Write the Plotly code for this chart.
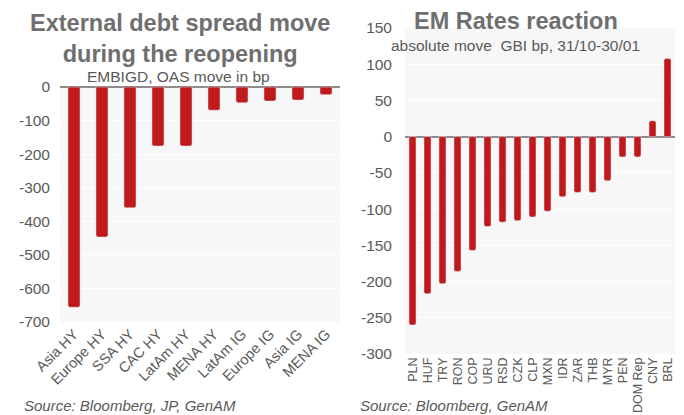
import plotly.graph_objects as go

left_cats = ["Asia HY", "Europe HY", "SSA HY", "CAC HY", "LatAm HY", "MENA HY",
             "LatAm IG", "Europe IG", "Asia IG", "MENA IG"]
left_vals = [-656, -447, -360, -176, -176, -69, -47, -42, -39, -23]
left_ticks = [0, -100, -200, -300, -400, -500, -600, -700]

right_cats = ["PLN", "HUF", "TRY", "RON", "COP", "URU", "RSD", "CZK", "CLP", "MXN",
              "IDR", "ZAR", "THB", "MYR", "PEN", "DOM Rep", "CNY", "BRL"]
right_vals = [-260, -217, -203, -186, -157, -124, -118, -116, -111, -103,
              -83, -77, -77, -61, -28, -28, 22, 108]
right_ticks = [150, 100, 50, 0, -50, -100, -150, -200, -250, -300]

RED = "#c0191c"
TXT = "#595959"
TITLE = "#6f6f6f"
FONT = "Liberation Sans, Arial, sans-serif"

OFF = 8  # default page body margin
W, H = 684 - OFF, 415 - OFF

fig = go.Figure()
fig.add_trace(go.Bar(x=left_cats, y=left_vals, marker=dict(color=RED, cornerradius=2),
                     width=0.43, xaxis="x", yaxis="y", showlegend=False))
fig.add_trace(go.Bar(x=right_cats, y=right_vals, marker=dict(color=RED, cornerradius=2),
                     width=0.47, xaxis="x2", yaxis="y2", showlegend=False))

def px_x(p):
    return (p - OFF) / W

def px_y(p):
    return 1 - (p - OFF) / H

fig.update_layout(
    width=W, height=H,
    margin=dict(l=0, r=0, t=0, b=0),
    paper_bgcolor="white",
    plot_bgcolor="#f7f7f7",
    font=dict(family=FONT, color=TXT, size=13),
    xaxis=dict(domain=[px_x(60), px_x(340)], anchor="y", tickangle=-45,
               showgrid=False, ticks="", tickfont=dict(size=14.5, color=TXT),
               tickmode="array", tickvals=left_cats,
               automargin=False, fixedrange=True),
    yaxis=dict(domain=[px_y(322), px_y(87)], anchor="x", range=[-700, 0],
               tickvals=left_ticks, ticktext=[str(v) for v in left_ticks],
               showgrid=True, gridcolor="white", gridwidth=1,
               zeroline=True, zerolinecolor="#8c8c8c", zerolinewidth=1.5,
               tickfont=dict(size=15.5, color=TXT), ticklabelstandoff=9,
               automargin=False),
    xaxis2=dict(domain=[px_x(405), px_x(675)], anchor="y2", tickangle=-90,
                showgrid=False, ticks="", tickfont=dict(size=12.5, color=TXT),
                tickmode="array", tickvals=right_cats,
                automargin=False),
    yaxis2=dict(domain=[px_y(354), px_y(28)], anchor="x2", range=[-300, 150],
                tickvals=right_ticks, ticktext=[str(v) for v in right_ticks],
                showgrid=True, gridcolor="white", gridwidth=1,
                zeroline=True, zerolinecolor="#8c8c8c", zerolinewidth=1.5,
                tickfont=dict(size=15.5, color=TXT), ticklabelstandoff=12,
                automargin=False),
    annotations=[
        dict(text="<b>External debt spread move<br>during the reopening</b>",
             x=px_x(180), y=px_y(38), xref="paper", yref="paper",
             showarrow=False, font=dict(size=23.5, color=TITLE, family=FONT),
             xanchor="center", yanchor="middle", align="center"),
        dict(text="EMBIGD, OAS move in bp", x=px_x(178), y=px_y(76),
             xref="paper", yref="paper", showarrow=False,
             font=dict(size=15.5, color=TXT, family=FONT), xanchor="center", yanchor="middle"),
        dict(text="<b>EM Rates reaction</b>", x=px_x(516), y=px_y(21),
             xref="paper", yref="paper", showarrow=False,
             font=dict(size=23.5, color=TITLE, family=FONT), xanchor="center", yanchor="middle"),
        dict(text="absolute move  GBI bp, 31/10-30/01", x=px_x(516), y=px_y(45),
             xref="paper", yref="paper", showarrow=False,
             font=dict(size=15.5, color=TXT, family=FONT), xanchor="center", yanchor="middle"),
        dict(text="<i>Source: Bloomberg, JP, GenAM</i>", x=px_x(22), y=px_y(405),
             xref="paper", yref="paper", showarrow=False,
             font=dict(size=15, color=TXT, family=FONT), xanchor="left", yanchor="middle"),
        dict(text="<i>Source: Bloomberg, GenAM</i>", x=px_x(358), y=px_y(405),
             xref="paper", yref="paper", showarrow=False,
             font=dict(size=15, color=TXT, family=FONT), xanchor="left", yanchor="middle"),
    ],
)

fig.write_html("out.html")
